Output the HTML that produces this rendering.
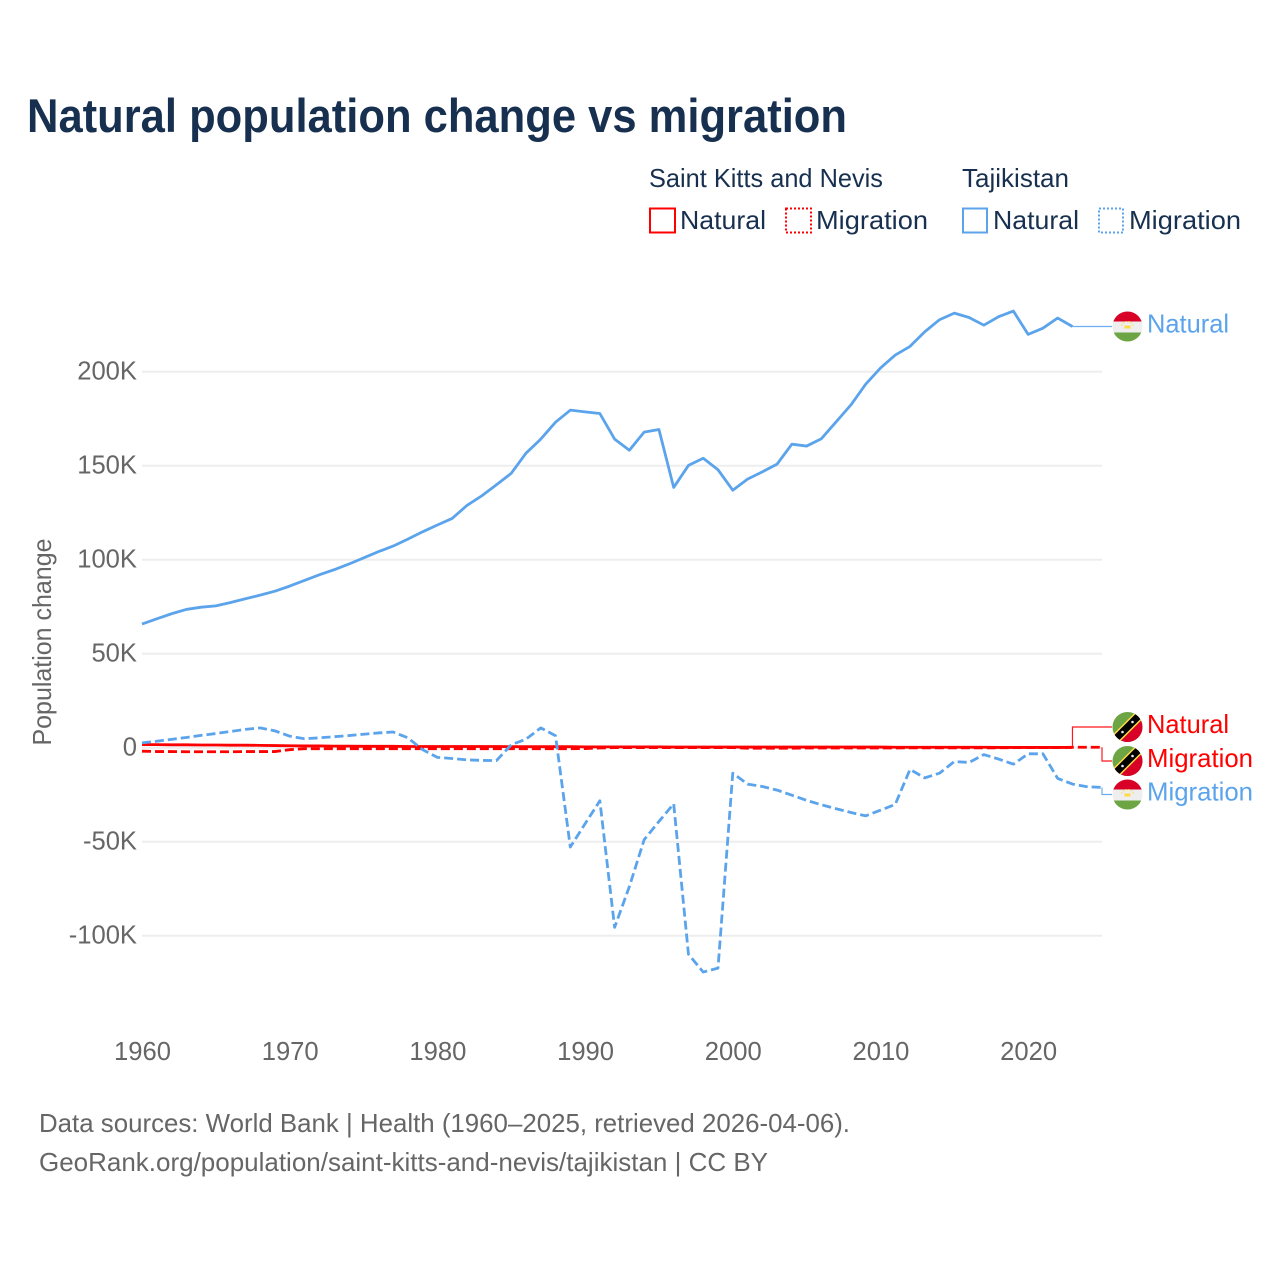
<!DOCTYPE html>
<html lang="en">
<head>
<meta charset="utf-8">
<title>Natural population change vs migration</title>
<style>
html,body{margin:0;padding:0;background:#fff;}
svg{display:block;font-family:"Liberation Sans",sans-serif;}
.lg{font-size:25.6px;fill:#18304f;}
.note{font-size:25.6px;fill:#666;}
.tick{font-size:25.6px;fill:#666;}
</style>
</head>
<body>
<svg id="chart" xmlns="http://www.w3.org/2000/svg" width="1280" height="1280" viewBox="0 0 1280 1280">
<defs>
<clipPath id="flag-clip"><circle cx="0" cy="0" r="15"/></clipPath>
<g id="flag-kn" clip-path="url(#flag-clip)">
<rect x="-15" y="-15" width="30" height="30" fill="#6da544"/>
<polygon points="15,-15 15,15 -15,15" fill="#d80027"/>
<line x1="-15" y1="15" x2="15" y2="-15" stroke="#ffda44" stroke-width="10"/>
<line x1="-15" y1="15" x2="15" y2="-15" stroke="#000" stroke-width="7"/>
<circle cx="-5" cy="5" r="1.3" fill="#eee"/>
<circle cx="5" cy="-5" r="1.3" fill="#eee"/>
</g>
<g id="flag-tj" clip-path="url(#flag-clip)">
<rect x="-15" y="-15" width="30" height="30" fill="#eee"/>
<rect x="-15" y="-15" width="30" height="10" fill="#d80027"/>
<rect x="-15" y="6" width="30" height="9" fill="#6da544"/>
<rect x="-3" y="-1" width="6" height="3" fill="#ffda44"/>
<path d="M-6,-1 A6.5,6.5 0 0 1 6,-1" fill="none" stroke="#ffda44" stroke-width="1.2" stroke-dasharray="1.2 1.6"/>
</g>
</defs>

<rect width="1280" height="1280" fill="#fff"/>

<text x="27" y="132" font-size="47" font-weight="700" fill="#18304f" textLength="820" lengthAdjust="spacingAndGlyphs">Natural population change vs migration</text>

<g>
<text class="lg" x="649" y="187" textLength="234" lengthAdjust="spacingAndGlyphs">Saint Kitts and Nevis</text>
<text class="lg" x="962" y="187" textLength="107" lengthAdjust="spacingAndGlyphs">Tajikistan</text>
<g>
<rect x="650" y="208.500" width="25" height="24" fill="none" stroke="#ff0000" stroke-width="2"/>
<text class="lg" x="680" y="229" textLength="86" lengthAdjust="spacingAndGlyphs">Natural</text>
</g>
<g>
<rect x="786" y="208.500" width="25" height="24" fill="none" stroke="#ff0000" stroke-width="2" stroke-dasharray="2 2"/>
<text class="lg" x="816" y="229" textLength="112" lengthAdjust="spacingAndGlyphs">Migration</text>
</g>
<g>
<rect x="963" y="208.500" width="24" height="24" fill="none" stroke="#5ba4ec" stroke-width="2"/>
<text class="lg" x="993" y="229" textLength="86" lengthAdjust="spacingAndGlyphs">Natural</text>
</g>
<g>
<rect x="1099" y="208.500" width="24" height="24" fill="none" stroke="#5ba4ec" stroke-width="2" stroke-dasharray="2 2"/>
<text class="lg" x="1129" y="229" textLength="112" lengthAdjust="spacingAndGlyphs">Migration</text>
</g>
</g>

<text class="tick" transform="translate(51,642) rotate(-90)" text-anchor="middle" textLength="207" lengthAdjust="spacingAndGlyphs">Population change</text>

<g id="grid"></g>
<g id="yticks"></g>
<g id="xticks"></g>
<g id="series"></g>
<g id="endlabels"></g>

<text class="note" x="39" y="1132" textLength="811" lengthAdjust="spacingAndGlyphs">Data sources: World Bank | Health (1960–2025, retrieved 2026-04-06).</text>
<text class="note" x="39" y="1171" textLength="729" lengthAdjust="spacingAndGlyphs">GeoRank.org/population/saint-kitts-and-nevis/tajikistan | CC BY</text>
</svg>

<script>
// Chart data, in thousands of people
var years = [1960,1961,1962,1963,1964,1965,1966,1967,1968,1969,1970,1971,1972,1973,1974,1975,1976,1977,1978,1979,1980,1981,1982,1983,1984,1985,1986,1987,1988,1989,1990,1991,1992,1993,1994,1995,1996,1997,1998,1999,2000,2001,2002,2003,2004,2005,2006,2007,2008,2009,2010,2011,2012,2013,2014,2015,2016,2017,2018,2019,2020,2021,2022,2023,2024,2025];
var tjNatural = [65.8,68.6,71.3,73.6,74.8,75.5,77.3,79.3,81.2,83.3,86,89,92,94.7,97.7,101,104.3,107.3,111,114.9,118.5,122,128.9,134,139.9,146,156.7,164.2,173.2,179.6,178.7,177.8,164.2,158.3,167.9,169.3,138.5,150.2,154,147.9,137,142.9,146.8,150.9,161.5,160.5,164.4,173.4,182.4,193.4,202,208.9,213.5,221.3,227.7,231.2,228.9,224.8,229.3,232.3,219.9,223.2,228.6,224.1];
var tjMigration = [2.6,3.5,4.5,5.5,6.6,7.6,8.7,9.8,10.6,9,6.2,4.8,5.3,5.9,6.5,7.2,7.9,8.4,5.3,-1,-5.1,-5.7,-6.4,-6.7,-6.8,1.6,4.6,10.6,6.4,-52.8,-40.4,-28.2,-95.5,-73.8,-48.9,-39.2,-29.8,-109.8,-119.3,-117.2,-13.5,-19.3,-20.6,-22.5,-25.2,-28,-30.3,-32.4,-34.4,-36.2,-33.2,-30.1,-11.5,-16,-13.5,-7.3,-7.8,-3.6,-6,-8.7,-3.2,-3.2,-16.3,-19.3,-20.7,-21.1];
var knNatural = [1.7,1.7,1.6,1.6,1.5,1.5,1.4,1.4,1.3,1.2,1.1,1,1,0.9,0.9,0.8,0.8,0.8,0.7,0.7,0.7,0.7,0.7,0.7,0.7,0.6,0.6,0.6,0.6,0.6,0.5,0.5,0.5,0.5,0.5,0.5,0.4,0.4,0.4,0.4,0.4,0.4,0.4,0.4,0.4,0.4,0.4,0.4,0.4,0.4,0.4,0.3,0.3,0.3,0.3,0.3,0.3,0.3,0.2,0.2,0.2,0.2,0.2,0.2];
var knMigration = [-1.8,-2,-2,-2.1,-2.1,-2.1,-2.1,-2,-2,-2,-1,-0.5,-0.5,-0.5,-0.5,-0.5,-0.5,-0.5,-0.5,-0.5,-0.5,-0.5,-0.5,-0.5,-0.5,-0.5,-0.5,-0.5,-0.5,-0.5,-0.4,-0.1,0.1,0.1,0.1,0.1,0.1,0.1,0.1,0.1,0.1,-0.2,-0.2,-0.2,-0.2,-0.1,-0.1,-0.1,-0.1,-0.1,-0.1,-0.1,0,0,0,0,0,0,0,0.1,0.1,0.1,0.1,0.3,0.3,0.3];
var yTickValues = [200,150,100,50,0,-50,-100];
var yTickLabels = ["200K","150K","100K","50K","0","-50K","-100K"];
var xTickYears = [1960,1970,1980,1990,2000,2010,2020];

var NS = "http://www.w3.org/2000/svg";
function xScale(year){ return 142 + (year - 1960) * (960 / 65); }
function yScale(v){ return 747.8 - v * 1.88; }
function make(tag, attrs, parent){
  var el = document.createElementNS(NS, tag);
  for (var k in attrs) el.setAttribute(k, attrs[k]);
  parent.appendChild(el);
  return el;
}
function linePoints(values){
  return values.map(function(v, i){ return xScale(years[i]).toFixed(2) + "," + yScale(v).toFixed(2); }).join(" ");
}

var gridG = document.getElementById("grid");
var yG = document.getElementById("yticks");
yTickValues.forEach(function(v, i){
  var ln = make("line", {x1:142, x2:1102, y1:yScale(v), y2:yScale(v), stroke:"#eeeeee", "stroke-width":2}, gridG);
  
  
  var t = make("text", {x:137, y:yScale(v)+7.5, "text-anchor":"end", "class":"tick"}, yG);
  
  
  t.textContent = yTickLabels[i];
});

var xG = document.getElementById("xticks");
xTickYears.forEach(function(yr){
  var t = make("text", {x:xScale(yr)+0.5, y:1060, "text-anchor":"middle", "class":"tick"}, xG);
  
  
  t.textContent = yr;
});

var sG = document.getElementById("series");
var BLUE = "#5ba4ec", RED = "#ff0000";

var l1 = make("polyline", {points:linePoints(tjNatural), fill:"none", stroke:BLUE, "stroke-width":2.8, "stroke-linejoin":"round"}, sG);


var l2 = make("polyline", {points:linePoints(knNatural), fill:"none", stroke:RED, "stroke-width":2.8, "stroke-linejoin":"round"}, sG);


var l3 = make("polyline", {points:linePoints(knMigration), fill:"none", stroke:RED, "stroke-width":2.8, "stroke-dasharray":"9 4", "stroke-linejoin":"round"}, sG);


var l4 = make("polyline", {points:linePoints(tjMigration), fill:"none", stroke:BLUE, "stroke-width":2.8, "stroke-dasharray":"9 4", "stroke-linejoin":"round"}, sG);



var eG = document.getElementById("endlabels");
function endLabel(name, values, labelY, color, flag, text, width){
  var n = values.length - 1;
  var x0 = xScale(years[n]), y0 = yScale(values[n]);
  var pts = Math.abs(y0 - labelY) < 1
    ? x0 + "," + y0 + " 1112," + y0
    : x0 + "," + y0 + " " + x0 + "," + labelY + " 1112," + labelY;
  var c = make("polyline", {points:pts, fill:"none", stroke:color, "stroke-width":1.2, opacity:0.9}, eG);
  
  
  var f = make("use", {href:"#" + flag, transform:"translate(1127.5," + labelY + ")"}, eG);
  
  
  var t = make("text", {x:1147, y:labelY + 6, fill:color, "font-size":25.6, textLength:width, lengthAdjust:"spacingAndGlyphs"}, eG);
  
  
  t.textContent = text;
}
endLabel("end-tajikistan-natural", tjNatural, yScale(tjNatural[tjNatural.length - 1]), BLUE, "flag-tj", "Natural", 82);
endLabel("end-saint-kitts-natural", knNatural, 727, RED, "flag-kn", "Natural", 82);
endLabel("end-saint-kitts-migration", knMigration, 761, RED, "flag-kn", "Migration", 106);
endLabel("end-tajikistan-migration", tjMigration, 794.5, BLUE, "flag-tj", "Migration", 106);
</script>
</body>
</html>
